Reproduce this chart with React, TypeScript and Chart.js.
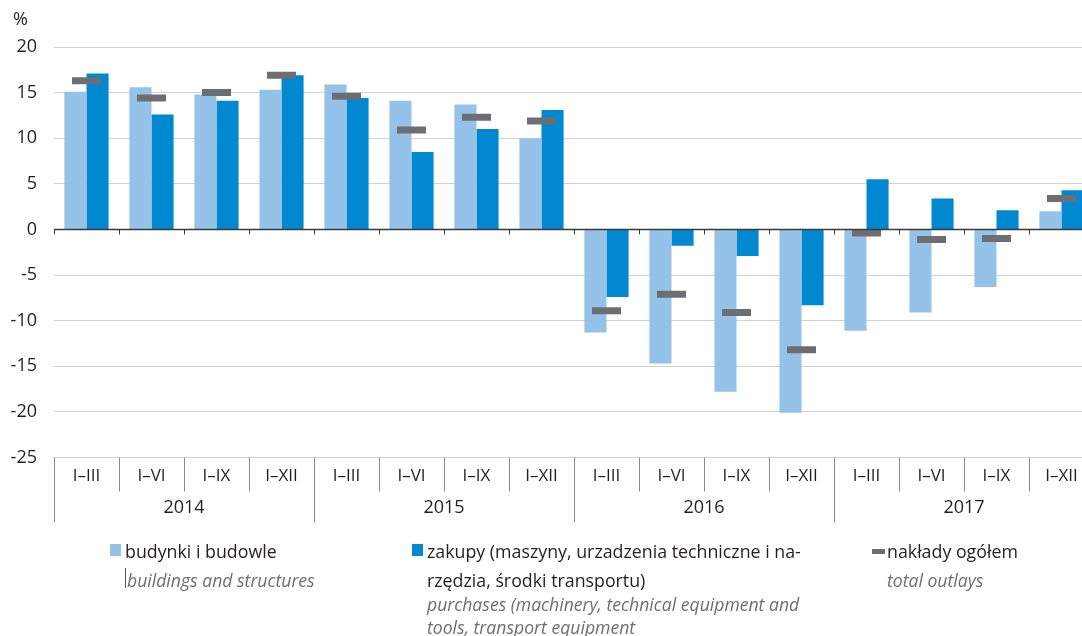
import React, { useEffect, useRef } from "react";
import { Chart, registerables } from "chart.js";

Chart.register(...registerables);

const quarters = ["I–III", "I–VI", "I–IX", "I–XII", "I–III", "I–VI", "I–IX", "I–XII", "I–III", "I–VI", "I–IX", "I–XII", "I–III", "I–VI", "I–IX", "I–XII"];
const years = ["2014", "2015", "2016", "2017"];
const buildings = [15.1, 15.6, 14.8, 15.3, 15.9, 14.1, 13.7, 10.0, -11.3, -14.7, -17.8, -20.1, -11.1, -9.1, -6.3, 2.0];
const purchases = [17.1, 12.6, 14.1, 16.9, 14.4, 8.5, 11.0, 13.1, -7.4, -1.8, -2.9, -8.3, 5.5, 3.4, 2.1, 4.3];
const totals = [16.3, 14.4, 15.0, 16.9, 14.6, 10.9, 12.3, 11.9, -8.9, -7.1, -9.1, -13.2, -0.4, -1.1, -1.0, 3.4];
const yTicks = { min: -25, max: 20, step: 5 };

const FONT = "'Open Sans', 'Noto Sans', sans-serif";
const LIGHT = "#95c2e8";
const DARK = "#0088d1";
const GRAY = "#6d6e71";
const TEXT = "#231f20";

const axisPlugin = {
  id: "customAxis",
  afterDatasetsDraw(chart: any) {
    const { ctx, chartArea, scales } = chart;
    const x = scales.x;
    const y = scales.y;
    const n = quarters.length;
    const w = (chartArea.right - chartArea.left) / n;
    const y0 = y.getPixelForValue(0);
    ctx.save();
    ctx.strokeStyle = "#3a3a3a";
    ctx.lineWidth = 1.5;
    ctx.beginPath();
    ctx.moveTo(chartArea.left, y0);
    ctx.lineTo(chartArea.right, y0);
    ctx.stroke();
    ctx.lineWidth = 1;
    for (let i = 0; i <= n; i++) {
      const px = Math.round(chartArea.left + i * w) + 0.5;
      ctx.beginPath();
      ctx.moveTo(px, y0);
      ctx.lineTo(px, y0 + 5);
      ctx.stroke();
    }
    const yb = chartArea.bottom;
    ctx.strokeStyle = "#8c8c8c";
    for (let i = 0; i <= n; i++) {
      const px = Math.round(chartArea.left + i * w) + 0.5;
      ctx.beginPath();
      ctx.moveTo(px, yb);
      ctx.lineTo(px, i % 4 === 0 ? yb + 65 : yb + 34);
      ctx.stroke();
    }
    ctx.fillStyle = TEXT;
    ctx.textAlign = "center";
    ctx.textBaseline = "middle";
    ctx.font = `17px ${FONT}`;
    quarters.forEach((q, i) => {
      ctx.fillText(q, x.getPixelForValue(i), yb + 19);
    });
    ctx.font = `18px ${FONT}`;
    years.forEach((yr, j) => {
      const cx = chartArea.left + (j * 4 + 2) * w;
      ctx.fillText(yr, cx, yb + 50);
    });
    ctx.restore();
  },
};

export default function App() {
  const ref = useRef<HTMLCanvasElement>(null);
  useEffect(() => {
    Chart.defaults.font.family = FONT;
    const chart = new Chart(ref.current!, {
      type: "bar",
      data: {
        labels: quarters,
        datasets: [
          {
            type: "line",
            label: "nakłady ogółem",
            data: totals,
            showLine: false,
            pointStyle: "line",
            pointRadius: 14.5,
            pointHoverRadius: 14.5,
            pointBorderWidth: 7,
            pointBorderColor: GRAY,
            borderColor: GRAY,
            backgroundColor: GRAY,
            order: 0,
          } as any,
          {
            label: "budynki i budowle",
            data: buildings,
            backgroundColor: LIGHT,
            categoryPercentage: 0.68,
            barPercentage: 1,
            order: 1,
          },
          {
            label: "zakupy",
            data: purchases,
            backgroundColor: DARK,
            categoryPercentage: 0.68,
            barPercentage: 1,
            order: 1,
          },
        ],
      },
      options: {
        responsive: true,
        maintainAspectRatio: false,
        animation: false,
        layout: { autoPadding: false, padding: { top: 47, bottom: 178.5, left: 0, right: 0 } },
        plugins: { legend: { display: false }, tooltip: { enabled: false } },
        scales: {
          x: { display: false, offset: true },
          y: {
            min: yTicks.min,
            max: yTicks.max,
            ticks: { stepSize: yTicks.step, padding: 17, color: TEXT, font: { size: 18, family: FONT } },
            grid: {
              drawTicks: false,
              color: (c: any) => (c.tick && c.tick.value === 0 ? "rgba(0,0,0,0)" : "#d2d2d2"),
              lineWidth: 1,
            },
            border: { display: false },
            afterFit: (s: any) => {
              s.width = 54;
            },
          },
        },
      },
      plugins: [axisPlugin],
    });
    return () => chart.destroy();
  }, []);

  const txt: React.CSSProperties = { position: "absolute", whiteSpace: "nowrap", fontFamily: FONT, fontSize: 17.8, lineHeight: "20px", color: TEXT };
  const it: React.CSSProperties = { ...txt, fontStyle: "italic", fontSize: 17.6, color: GRAY };

  return (
    <div style={{ position: "fixed", left: 0, top: 0, width: 1082, height: 636, background: "#fff", overflow: "hidden" }}>
      <div style={{ position: "absolute", left: 0, top: 0, width: 1094, height: 636 }}>
        <canvas ref={ref} />
      </div>
      <div style={{ ...txt, left: 13, top: 8, fontSize: 18 }}>%</div>
      <div style={{ position: "absolute", left: 110, top: 544, width: 11, height: 12, background: LIGHT }} />
      <div style={{ ...txt, left: 125, top: 541 }}>budynki i budowle</div>
      <div style={{ position: "absolute", left: 125, top: 568, width: 1, height: 20, background: "#555" }} />
      <div style={{ ...it, left: 127, top: 570 }}>buildings and structures</div>
      <div style={{ position: "absolute", left: 412, top: 544, width: 11, height: 12, background: DARK }} />
      <div style={{ ...txt, left: 427, top: 541 }}>zakupy (maszyny, urzadzenia techniczne i na-</div>
      <div style={{ ...txt, left: 427, top: 570 }}>rzędzia, środki transportu)</div>
      <div style={{ ...it, left: 427, top: 594 }}>purchases (machinery, technical equipment and</div>
      <div style={{ ...it, left: 427, top: 617 }}>tools, transport equipment</div>
      <div style={{ position: "absolute", left: 872, top: 549, width: 13, height: 5, background: GRAY }} />
      <div style={{ ...txt, left: 887, top: 541 }}>nakłady ogółem</div>
      <div style={{ ...it, left: 887, top: 570 }}>total outlays</div>
    </div>
  );
}
